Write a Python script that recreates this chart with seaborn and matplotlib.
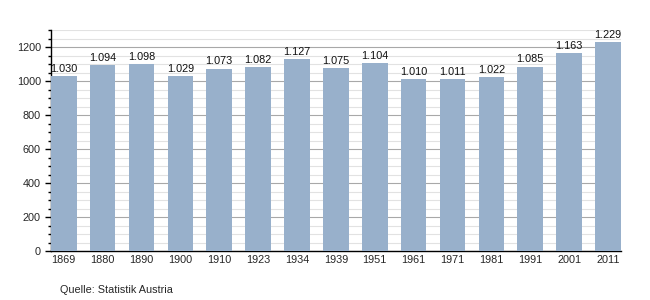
import matplotlib
matplotlib.use("Agg")
import matplotlib.pyplot as plt
import seaborn as sns
import pandas as pd
from matplotlib.ticker import MultipleLocator

years = ["1869", "1880", "1890", "1900", "1910", "1923", "1934", "1939", "1951",
         "1961", "1971", "1981", "1991", "2001", "2011"]
population = [1030, 1094, 1098, 1029, 1073, 1082, 1127, 1075, 1104,
              1010, 1011, 1022, 1085, 1163, 1229]
source = "Quelle: Statistik Austria"

sns.set_theme(style="white")
plt.rcParams['font.family'] = ['Liberation Sans', 'DejaVu Sans']

df = pd.DataFrame({"year": years, "pop": population})

fig = plt.figure(figsize=(6.5, 3.0), dpi=100)
ax = fig.add_axes([0.0777, 0.163, 0.878, 0.737])

ax.set_ylim(0, 1300)
ax.yaxis.set_major_locator(MultipleLocator(200))
ax.yaxis.set_minor_locator(MultipleLocator(50))
ax.grid(which="major", axis="y", color="#a8a8a8", linewidth=0.8)
ax.grid(which="minor", axis="y", color="#e2e2e2", linewidth=0.8)
ax.set_axisbelow(True)

bw = 0.66
sns.barplot(data=df, x="year", y="pop", color="#98b0cb", saturation=1,
            width=bw, ax=ax, zorder=3, linewidth=0, edgecolor="none")

for i, v in enumerate(population):
    ax.text(i, v + 14, f"{v/1000:.3f}", ha="center", va="bottom",
            fontsize=7.8, color="#111111")

for s in ["top", "right"]:
    ax.spines[s].set_visible(False)
ax.spines["left"].set_color("black")
ax.spines["bottom"].set_color("black")
ax.spines["left"].set_linewidth(1)
ax.spines["bottom"].set_linewidth(1)
ax.set_xlim(-bw / 2 - 0.01, len(years) - 1 + bw / 2 + 0.01)
ax.tick_params(axis="y", which="major", left=True, length=4, width=1,
               labelsize=7.8, color="black", pad=3)
ax.tick_params(axis="y", which="minor", left=True, length=2, width=1, color="black")
ax.tick_params(axis="x", bottom=False, length=0, labelsize=7.8, pad=2.5)
ax.set_xlabel("")
ax.set_ylabel("")

fig.text(0.092, 0.018, source, fontsize=7.8, ha="left", va="bottom")

fig.savefig("out.png", dpi=100, facecolor="white")
